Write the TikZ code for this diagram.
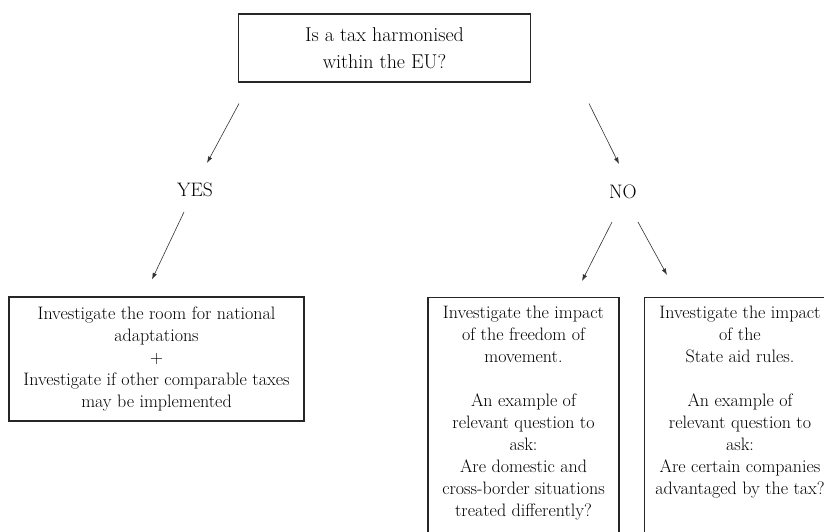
\documentclass[tikz,border=0pt]{standalone}
\usepackage{tikz}
\usetikzlibrary{arrows.meta,positioning}

\begin{document}
\begin{tikzpicture}[x=1pt,y=-1pt,
			box/.style={
				draw=black!85,
				line width=1.1pt,
				align=center,
				inner xsep=3pt,
				font=\fontsize{18}{22}\selectfont
			},
			answer/.style={font=\fontsize{19.5}{22}\selectfont,inner sep=0pt},
			arrow/.style={-{Latex[length=6.5pt,width=4.5pt]},line width=0.6pt,black!80}
			]
			
			\fill[white] (0,0) rectangle (824,532);
			\clip (0,0) rectangle (824,532);
			
			\node[box,minimum width=292pt,minimum height=68pt,font=\fontsize{20}{27}\selectfont] (tax) at (384.5,48)
			{Is a tax harmonised\\ within the EU?};
			
			\node[answer] (yes) at (195,190) {YES};
			\node[answer] (no) at (623,192) {NO};
			
			\node[box,minimum width=295pt,minimum height=124pt] (adapt) at (156.5,359)
			{Investigate the room for national\\ adaptations\\ +\\ Investigate if other comparable taxes\\ may be implemented};
			
			\node[box,anchor=north,minimum width=191pt,inner ysep=8pt,text depth=40pt] (free) at (523.5,297)
			{Investigate the impact\\ of the freedom of\\ movement.\\ \\ An example of\\ relevant question to\\ ask:\\ Are domestic and\\ cross-border situations\\ treated differently?};
			
			\node[box,anchor=north,minimum width=191pt,inner ysep=8pt,text depth=80pt] (aid) at (740,297)
			{Investigate the impact\\ of the\\ State aid rules.\\ \\ An example of\\ relevant question to\\ ask:\\ Are certain companies\\ advantaged by the tax?};
			
			\draw[arrow] ([shift={(-145.5,21)}]tax.south) -- ([shift={(12,-27)}]yes.center);
			\draw[arrow] ([shift={(204.5,21)}]tax.south) -- ([shift={(-4,-28)}]no.center);
			\draw[arrow] ([shift={(-11,22)}]yes.center) -- ([shift={(-4.5,-17)}]adapt.north);
			\draw[arrow] ([shift={(-11,30)}]no.center) -- ([shift={(58.5,-16)}]free.north);
			\draw[arrow] ([shift={(15,30)}]no.center) -- ([shift={(-73,-22)}]aid.north);
			
		\end{tikzpicture}
\end{document}
